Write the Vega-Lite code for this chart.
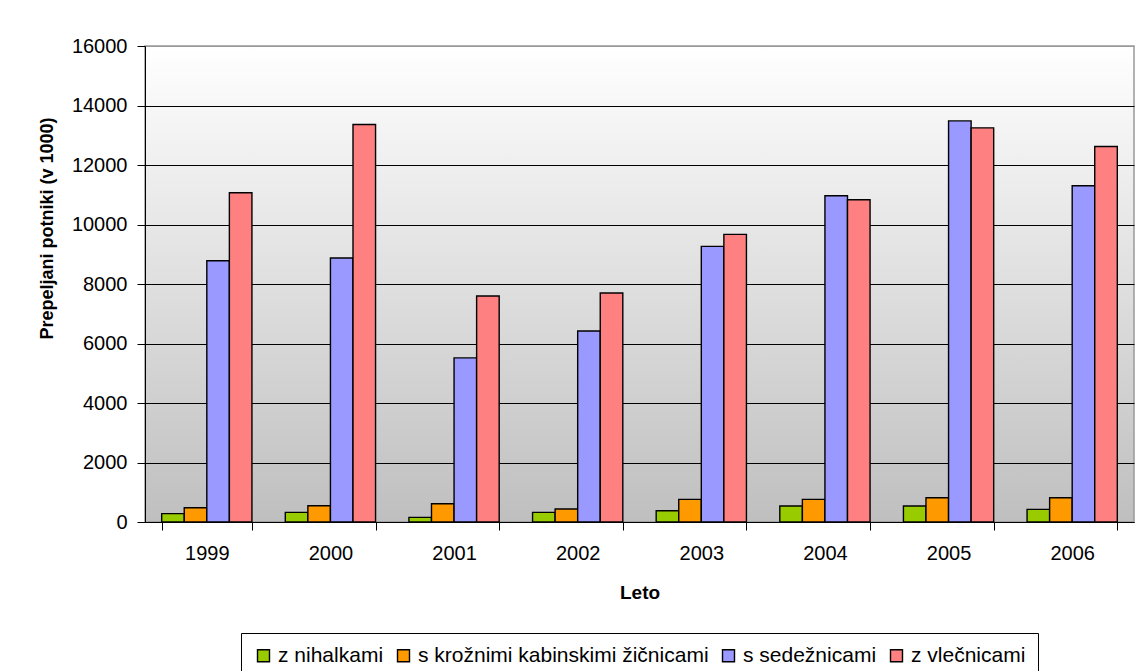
{
  "$schema": "https://vega.github.io/schema/vega-lite/v6.json",
  "width": 989,
  "height": 476,
  "autosize": {"type": "none"},
  "padding": {"left": 145, "top": 46, "right": 4, "bottom": 149},
  "background": "white",
  "data": {
    "values": [
      {"year": "1999", "series": "z nihalkami", "value": 280},
      {"year": "1999", "series": "s krožnimi kabinskimi žičnicami", "value": 481},
      {"year": "1999", "series": "s sedežnicami", "value": 8783},
      {"year": "1999", "series": "z vlečnicami", "value": 11066},
      {"year": "2000", "series": "z nihalkami", "value": 324},
      {"year": "2000", "series": "s krožnimi kabinskimi žičnicami", "value": 548},
      {"year": "2000", "series": "s sedežnicami", "value": 8873},
      {"year": "2000", "series": "z vlečnicami", "value": 13359},
      {"year": "2001", "series": "z nihalkami", "value": 157},
      {"year": "2001", "series": "s krožnimi kabinskimi žičnicami", "value": 615},
      {"year": "2001", "series": "s sedežnicami", "value": 5516},
      {"year": "2001", "series": "z vlečnicami", "value": 7597},
      {"year": "2002", "series": "z nihalkami", "value": 324},
      {"year": "2002", "series": "s krožnimi kabinskimi žičnicami", "value": 436},
      {"year": "2002", "series": "s sedežnicami", "value": 6422},
      {"year": "2002", "series": "z vlečnicami", "value": 7698},
      {"year": "2003", "series": "z nihalkami", "value": 380},
      {"year": "2003", "series": "s krožnimi kabinskimi žičnicami", "value": 761},
      {"year": "2003", "series": "s sedežnicami", "value": 9264},
      {"year": "2003", "series": "z vlečnicami", "value": 9667},
      {"year": "2004", "series": "z nihalkami", "value": 537},
      {"year": "2004", "series": "s krožnimi kabinskimi žičnicami", "value": 761},
      {"year": "2004", "series": "s sedežnicami", "value": 10965},
      {"year": "2004", "series": "z vlečnicami", "value": 10831},
      {"year": "2005", "series": "z nihalkami", "value": 537},
      {"year": "2005", "series": "s krožnimi kabinskimi žičnicami", "value": 817},
      {"year": "2005", "series": "s sedežnicami", "value": 13483},
      {"year": "2005", "series": "z vlečnicami", "value": 13248},
      {"year": "2006", "series": "z nihalkami", "value": 425},
      {"year": "2006", "series": "s krožnimi kabinskimi žičnicami", "value": 817},
      {"year": "2006", "series": "s sedežnicami", "value": 11301},
      {"year": "2006", "series": "z vlečnicami", "value": 12621}
    ]
  },
  "mark": {"type": "bar", "stroke": "black", "strokeWidth": 1.4},
  "encoding": {
    "x": {
      "field": "year",
      "type": "ordinal",
      "scale": {"paddingInner": 0.27, "paddingOuter": 0.135},
      "axis": {
        "title": "Leto",
        "labelAngle": 0,
        "tickBand": "extent",
        "tickSize": 8,
        "tickColor": "black",
        "domainColor": "black",
        "labelFontSize": 20,
        "labelColor": "black",
        "labelPadding": 13,
        "titleFontSize": 19,
        "titleFontWeight": "bold",
        "titleColor": "black",
        "titlePadding": 20,
        "grid": false
      }
    },
    "xOffset": {
      "field": "series",
      "type": "nominal",
      "sort": ["z nihalkami", "s krožnimi kabinskimi žičnicami", "s sedežnicami", "z vlečnicami"],
      "scale": {"paddingInner": 0, "paddingOuter": 0}
    },
    "y": {
      "field": "value",
      "type": "quantitative",
      "scale": {"domain": [0, 16000], "nice": false},
      "axis": {
        "title": "Prepeljani potniki (v 1000)",
        "values": [0, 2000, 4000, 6000, 8000, 10000, 12000, 14000, 16000],
        "format": "d",
        "tickSize": 8,
        "tickColor": "black",
        "domainColor": "black",
        "labelFontSize": 20,
        "labelColor": "black",
        "labelPadding": 10,
        "grid": true,
        "gridColor": {"condition": {"test": "datum.value === 16000", "value": "#999999"}, "value": "#000000"},
        "gridWidth": 1,
        "titleFontSize": 18,
        "titleFontWeight": "bold",
        "titleColor": "black",
        "titleX": -98,
        "titleY": 182,
        "titleAngle": -90,
        "titleAlign": "center",
        "titleBaseline": "middle"
      }
    },
    "color": {
      "field": "series",
      "type": "nominal",
      "sort": ["z nihalkami", "s krožnimi kabinskimi žičnicami", "s sedežnicami", "z vlečnicami"],
      "scale": {
        "domain": ["z nihalkami", "s krožnimi kabinskimi žičnicami", "s sedežnicami", "z vlečnicami"],
        "range": ["#99CC00", "#FF9900", "#9999FF", "#FF8080"]
      },
      "legend": {
        "orient": "none",
        "legendX": 96,
        "legendY": 587,
        "direction": "horizontal",
        "title": null,
        "symbolType": "square",
        "symbolSize": 144,
        "symbolStrokeColor": "black",
        "symbolStrokeWidth": 1.4,
        "symbolOpacity": 1,
        "labelFontSize": 21,
        "labelColor": "black",
        "labelOffset": 4,
        "columnPadding": 9,
        "padding": 12,
        "strokeColor": "black",
        "fillColor": "white",
        "labelLimit": 0
      }
    }
  },
  "config": {
    "font": "Liberation Sans",
    "view": {
      "stroke": "#999999",
      "strokeWidth": 1.5,
      "fill": {
        "gradient": "linear",
        "x1": 0, "y1": 0, "x2": 0, "y2": 1,
        "stops": [
          {"offset": 0, "color": "#ffffff"},
          {"offset": 1, "color": "#bfbfbf"}
        ]
      }
    }
  }
}
